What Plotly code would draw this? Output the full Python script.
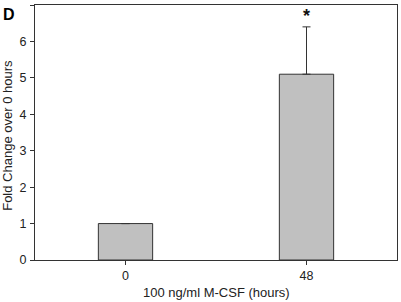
import plotly.graph_objects as go

categories = ["0", "48"]
values = [1.0, 5.1]
err_plus = [0.0, 1.3]
significance = ["", "*"]
y_ticks = [0, 1, 2, 3, 4, 5, 6, 7]

edge = "#333333"
fig = go.Figure()
fig.add_trace(go.Bar(
    x=categories, y=values, width=0.3,
    marker=dict(color="#c0c0c0", line=dict(color=edge, width=1)),
    error_y=dict(type="data", symmetric=False, array=err_plus, arrayminus=[0, 0],
                 color=edge, thickness=1, width=4, visible=True),
))
tops = [v + e for v, e in zip(values, err_plus)]
fig.add_trace(go.Scatter(
    x=categories, y=tops, mode="text", text=[f"<b>{s}</b>" for s in significance],
    textposition="top center", textfont=dict(size=18, color="#111111"),
    cliponaxis=False, hoverinfo="skip",
))
fig.add_annotation(x=-0.095, y=1.005, xref="paper", yref="paper", xanchor="left", yanchor="top",
                   text="<b>D</b>", showarrow=False,
                   font=dict(size=16, color="#000000"))
fig.add_annotation(x=-0.078, y=0.49, xref="paper", yref="paper", xanchor="center", yanchor="middle",
                   text="Fold Change over 0 hours", textangle=-90, showarrow=False,
                   font=dict(size=13, color="#222222"))
fig.add_annotation(x=0.5, y=-0.129, xref="paper", yref="paper", xanchor="center", yanchor="middle",
                   text="100 ng/ml M-CSF (hours)", showarrow=False,
                   font=dict(size=13, color="#222222"))
axis_font = dict(family="Liberation Sans, Arial, sans-serif", size=12.5, color="#222222")
fig.update_layout(
    width=401, height=302,
    margin=dict(l=35, r=4, t=5, b=42, autoexpand=False),
    paper_bgcolor="white", plot_bgcolor="white",
    showlegend=False,
    font=axis_font,
    xaxis=dict(type="category", range=[-0.5, 1.5], showline=True, linecolor=edge, linewidth=1,
               mirror=True, ticks="outside", ticklen=4, tickcolor=edge, showgrid=False),
    yaxis=dict(range=[0, 7], tickvals=y_ticks, showline=True, linecolor=edge, linewidth=1,
               mirror=True, ticks="outside", ticklen=4, tickcolor=edge, showgrid=False,
               zeroline=False, ticklabelstandoff=1),
)
fig.write_html("out.html", config={"displayModeBar": False},
               post_script="document.body.style.margin='0';document.body.style.overflow='hidden';")
